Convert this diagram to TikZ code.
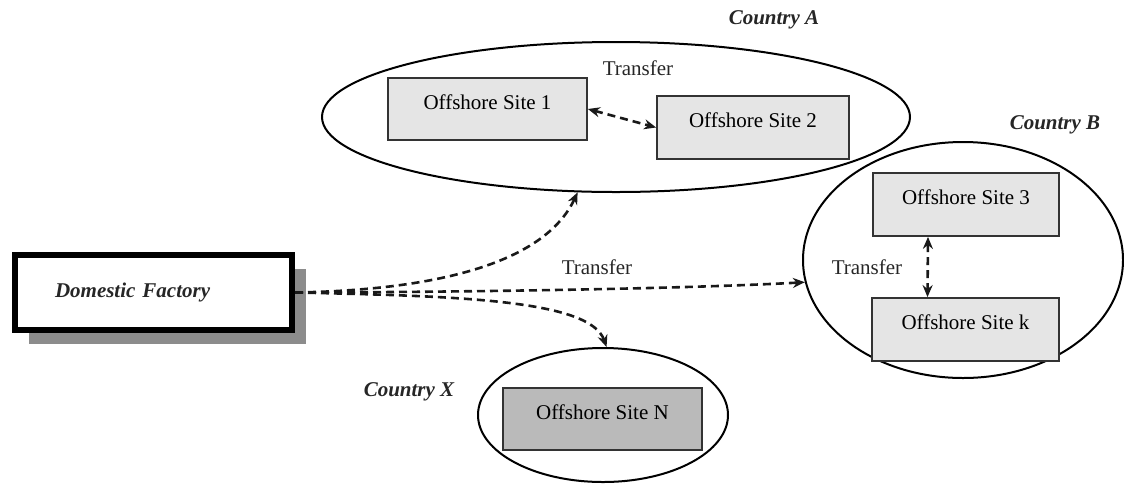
\documentclass[tikz,border=0pt]{standalone}
\usepackage{fontspec}
\setmainfont{Liberation Serif}
\usetikzlibrary{shapes.geometric,arrows.meta,shadows}
\begin{document}
\begin{tikzpicture}[x=1pt,y=-1pt,
  every node/.style={font=\fontsize{21}{24}\selectfont},
  country/.style={ellipse,draw=black,line width=2pt,inner sep=0pt},
  sitebox/.style={rectangle,draw=black!80,line width=1.8pt,fill=black!10,
    text height=14pt,text depth=14pt,inner sep=0pt},
  darkbox/.style={sitebox,fill=black!27},
  ctry/.style={font=\fontsize{21}{24}\selectfont\bfseries\itshape,text=black!85},
  lbl/.style={text=black!85},
  tr/.style={dash pattern=on 8pt off 5pt,line width=2.6pt,draw=black!90,
    -{Stealth[length=12pt,width=10pt]}},
  trb/.style={tr,{Stealth[length=12pt,width=10pt]}-{Stealth[length=12pt,width=10pt]}}
]
\useasboundingbox (0,0) rectangle (1124,483);
% Domestic factory
\node[rectangle,draw=black,line width=6pt,fill=white,minimum width=277pt,minimum height=75pt,
  text width=197pt,inner xsep=40pt,align=left,
  general shadow={fill=black!45,draw=none,shadow xshift=14pt,shadow yshift=-14pt},
  font=\fontsize{21}{24}\selectfont\bfseries\itshape,text=black!85]
  (df) at (153.5,292.5) {Domestic Factory};
% Country A
\node[country,minimum width=588pt,minimum height=150pt] (ellA) at (616,117) {};
\node[sitebox,minimum width=199pt,minimum height=62pt] (s1) at (487.5,109) {Offshore Site 1};
\node[sitebox,minimum width=192pt,minimum height=63pt] (s2) at (753,127.5) {Offshore Site 2};
\node[lbl] (tA) at (638,68) {Transfer};
\node[ctry] (cA) at (774,20) {Country A};
% Country B
\node[country,minimum width=320pt,minimum height=236pt] (ellB) at (963,260) {};
\node[sitebox,minimum width=186pt,minimum height=63pt] (s3) at (966,204.5) {Offshore Site 3};
\node[sitebox,minimum width=187pt,minimum height=63pt] (sk) at (965.5,329.5) {Offshore Site k};
\node[lbl] (tB) at (867,267) {Transfer};
\node[ctry] (cB) at (1055,125) {Country B};
% Country X
\node[country,minimum width=250pt,minimum height=134pt] (ellX) at (603,415) {};
\node[darkbox,minimum width=199pt,minimum height=62pt] (sN) at (602.5,419) {Offshore Site N};
\node[ctry] (cX) at (409,392) {Country X};
% middle label
\node[lbl] (tM) at (597,267) {Transfer};
% connectors
\draw[tr] (df.east) .. controls (440,290) and (545,262) .. (ellA.243);
\draw[tr] (df.east) .. controls (500,292) and (700,288) .. (ellB.188);
\draw[tr] (df.east) .. controls (460,296) and (590,300) .. (ellX.87);
\draw[trb] (s1.east) -- (s2.west);
\draw[trb] ([xshift=-38pt]s3.south) -- ([xshift=-38pt]sk.north);
\end{tikzpicture}
\end{document}
